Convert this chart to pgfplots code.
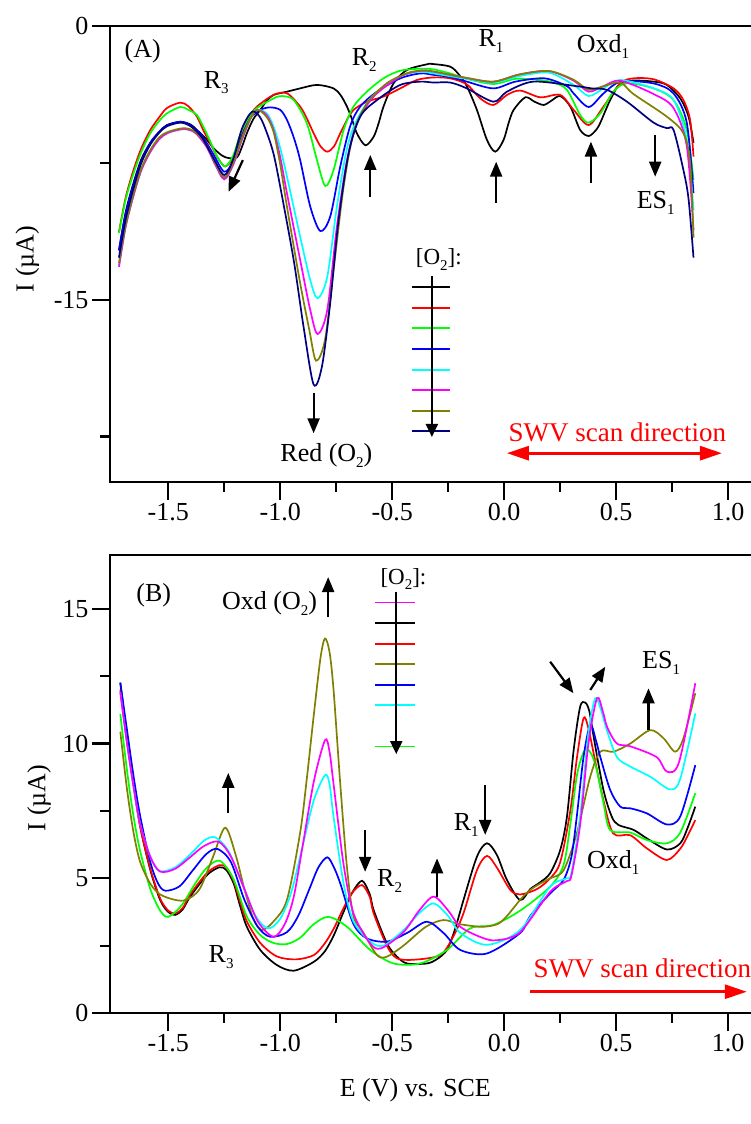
\documentclass[border=0pt]{standalone}
\usepackage{fontspec}
\setmainfont{Liberation Serif}
\usepackage{pgfplots}
\pgfplotsset{compat=1.18}
\usetikzlibrary{arrows.meta}
\definecolor{cgreen}{RGB}{0,255,0}
\definecolor{ccyan}{RGB}{0,255,255}
\definecolor{cmag}{RGB}{255,0,255}
\definecolor{colive}{RGB}{128,128,0}
\definecolor{cnavy}{RGB}{0,0,128}
\definecolor{cblue}{RGB}{0,0,255}
\definecolor{cred}{RGB}{255,0,0}
\newcommand\sub[1]{\raisebox{-0.5ex}{\fontsize{15}{15}\selectfont #1}}
\newcommand\ann{\fontsize{26}{30}\selectfont}
\newcommand\leg{\fontsize{23}{26}\selectfont}
\tikzset{arr/.style={line width=2.2pt, -{Triangle[length=15pt,width=12pt]}},
  mt/.style={line width=2.2pt, black}}
\pgfplotsset{
 panel/.style={
  scale only axis, width=645.1pt,
  xmin=-1.76, xmax=1.12,
  clip=false,
  axis line style={line width=2.5pt},
  every tick/.style={black, line width=2.2pt},
  major tick length=18pt, minor tick length=10pt,
  tick align=outside, tick pos=left,
  xtick={-1.5,-1,-0.5,0,0.5,1},
  /pgf/number format/assume math mode=true,
  xticklabel style={/pgf/number format/.cd, fixed, fixed zerofill, precision=1},
  tick label style={font=\fontsize{26}{30}\selectfont},
  every axis plot/.append style={line width=1.7pt, smooth},
 },
}
\begin{document}
\begin{tikzpicture}
%% ---------------- Panel A ----------------
\begin{axis}[panel, at={(0pt,0pt)}, anchor=north west, height=456pt,
  ymin=-25, ymax=0, ytick={-15,0}]
\addplot[black] coordinates {(-1.72,-12.3) (-1.69,-10.2) (-1.655,-8.6) (-1.62,-7.3) (-1.58,-6.4) (-1.54,-5.8) (-1.506,-5.43) (-1.446,-5.25) (-1.40,-5.4) (-1.372,-5.7) (-1.33,-6.2) (-1.297,-6.71) (-1.26,-7.1) (-1.231,-7.24) (-1.193,-7.2) (-1.17,-6.6) (-1.149,-5.88) (-1.12,-5.1) (-1.089,-4.6) (-1.06,-4.1) (-1.03,-3.78) (-0.97,-3.6) (-0.911,-3.42) (-0.836,-3.23) (-0.762,-3.42) (-0.73,-3.8) (-0.702,-4.42) (-0.68,-5.1) (-0.658,-5.88) (-0.62,-6.54) (-0.583,-6.07) (-0.56,-5.3) (-0.539,-4.42) (-0.494,-3.14) (-0.434,-2.41) (-0.345,-2.1) (-0.323,-2.08) (-0.241,-2.23) (-0.20,-2.7) (-0.167,-3.3) (-0.122,-4.6) (-0.077,-6.25) (-0.04,-6.89) (-0.003,-6.25) (0.02,-5.3) (0.042,-4.6) (0.094,-3.91) (0.135,-4.15) (0.176,-4.33) (0.21,-4.1) (0.25,-3.84) (0.295,-4.42) (0.339,-5.7) (0.377,-6.03) (0.41,-5.7) (0.429,-5.3) (0.473,-4.06) (0.518,-3.14) (0.577,-2.99) (0.667,-3.05) (0.726,-3.23) (0.786,-3.97) (0.823,-4.97) (0.845,-6.4)};
\addplot[cred] coordinates {(-1.72,-11.3) (-1.69,-9.4) (-1.655,-7.9) (-1.62,-6.7) (-1.58,-5.7) (-1.54,-5.0) (-1.506,-4.5) (-1.446,-4.2) (-1.41,-4.4) (-1.372,-4.97) (-1.34,-5.8) (-1.312,-6.43) (-1.28,-7.2) (-1.246,-7.7) (-1.21,-7.2) (-1.179,-6.07) (-1.14,-5.0) (-1.104,-4.42) (-1.03,-3.78) (-0.97,-3.69) (-0.911,-4.42) (-0.88,-5.1) (-0.851,-5.88) (-0.82,-6.6) (-0.79,-6.89) (-0.76,-6.6) (-0.732,-5.88) (-0.70,-5.1) (-0.673,-4.6) (-0.613,-4.15) (-0.539,-3.87) (-0.464,-3.42) (-0.39,-2.96) (-0.316,-2.82) (-0.241,-2.87) (-0.167,-3.2) (-0.107,-3.97) (-0.048,-4.33) (0.012,-3.78) (0.071,-3.54) (0.161,-3.91) (0.25,-3.78) (0.31,-4.6) (0.377,-5.43) (0.443,-4.42) (0.518,-3.14) (0.577,-2.87) (0.667,-2.92) (0.756,-3.42) (0.80,-4.06) (0.83,-5.15) (0.845,-7.16)};
\addplot[cgreen] coordinates {(-1.72,-11.35) (-1.69,-9.5) (-1.655,-8.08) (-1.62,-6.9) (-1.58,-5.88) (-1.54,-5.2) (-1.506,-4.79) (-1.446,-4.44) (-1.41,-4.6) (-1.372,-4.88) (-1.34,-5.6) (-1.312,-6.34) (-1.28,-7.2) (-1.246,-7.7) (-1.21,-7.1) (-1.179,-5.97) (-1.14,-5.0) (-1.104,-4.5) (-1.03,-3.97) (-0.993,-3.84) (-0.94,-4.06) (-0.881,-5.34) (-0.836,-7.35) (-0.799,-8.77) (-0.762,-7.9) (-0.717,-5.7) (-0.673,-4.42) (-0.613,-3.6) (-0.539,-2.87) (-0.464,-2.45) (-0.375,-2.34) (-0.316,-2.38) (-0.241,-2.6) (-0.167,-2.9) (-0.048,-3.18) (0.05,-2.9) (0.15,-2.95) (0.22,-3.1) (0.28,-3.5) (0.339,-4.88) (0.377,-5.3) (0.429,-4.79) (0.488,-3.6) (0.548,-3.14) (0.667,-3.42) (0.756,-4.06) (0.815,-5.7) (0.845,-8.44)};
\addplot[cblue] coordinates {(-1.72,-12.3) (-1.69,-10.3) (-1.655,-8.7) (-1.62,-7.4) (-1.58,-6.4) (-1.54,-5.8) (-1.506,-5.45) (-1.446,-5.25) (-1.40,-5.45) (-1.35,-6.0) (-1.30,-7.0) (-1.25,-7.99) (-1.21,-7.4) (-1.17,-6.0) (-1.13,-5.0) (-1.09,-4.6) (-1.045,-4.46) (-1.0,-4.6) (-0.97,-5.15) (-0.94,-6.1) (-0.911,-7.35) (-0.866,-9.9) (-0.821,-11.24) (-0.777,-10.45) (-0.732,-7.7) (-0.688,-5.5) (-0.643,-4.42) (-0.568,-3.6) (-0.464,-2.87) (-0.375,-2.6) (-0.316,-2.68) (-0.241,-2.8) (-0.167,-3.05) (-0.048,-3.42) (0.05,-3.05) (0.18,-2.87) (0.28,-3.3) (0.31,-3.7) (0.377,-4.44) (0.443,-3.7) (0.52,-3.05) (0.667,-3.15) (0.756,-3.7) (0.815,-5.3) (0.845,-9.16)};
\addplot[ccyan] coordinates {(-1.72,-13.2) (-1.69,-11.0) (-1.655,-9.3) (-1.62,-7.9) (-1.58,-6.9) (-1.54,-6.2) (-1.50,-5.85) (-1.43,-5.65) (-1.38,-5.85) (-1.33,-6.6) (-1.29,-7.6) (-1.25,-8.4) (-1.21,-7.6) (-1.17,-6.2) (-1.13,-5.0) (-1.10,-4.6) (-1.06,-4.8) (-1.03,-5.5) (-1.0,-6.7) (-0.97,-8.26) (-0.911,-11.55) (-0.866,-13.93) (-0.833,-14.93) (-0.79,-13.75) (-0.747,-9.9) (-0.702,-6.71) (-0.658,-5.15) (-0.583,-3.78) (-0.464,-2.77) (-0.375,-2.5) (-0.316,-2.6) (-0.167,-2.9) (-0.048,-3.1) (0.07,-2.74) (0.2,-2.56) (0.31,-3.23) (0.377,-3.84) (0.443,-3.42) (0.518,-2.96) (0.667,-3.42) (0.756,-4.06) (0.815,-6.25) (0.845,-10.1)};
\addplot[cmag] coordinates {(-1.72,-13.2) (-1.69,-11.0) (-1.655,-9.3) (-1.62,-7.9) (-1.58,-6.9) (-1.54,-6.2) (-1.50,-5.85) (-1.43,-5.65) (-1.38,-5.85) (-1.33,-6.6) (-1.29,-7.6) (-1.25,-8.4) (-1.21,-7.6) (-1.17,-6.2) (-1.13,-5.0) (-1.10,-4.6) (-1.06,-4.9) (-1.03,-5.7) (-1.0,-7.2) (-0.97,-9.17) (-0.911,-12.83) (-0.866,-15.57) (-0.833,-16.89) (-0.79,-15.57) (-0.747,-11.0) (-0.702,-7.35) (-0.658,-5.34) (-0.583,-3.87) (-0.464,-2.77) (-0.375,-2.45) (-0.316,-2.5) (-0.167,-2.85) (-0.048,-3.05) (0.07,-2.65) (0.2,-2.47) (0.31,-3.0) (0.377,-3.6) (0.443,-3.3) (0.518,-3.0) (0.667,-3.73) (0.756,-4.5) (0.815,-6.6) (0.845,-11.2)};
\addplot[colive] coordinates {(-1.72,-13.0) (-1.69,-10.9) (-1.655,-9.2) (-1.62,-7.8) (-1.58,-6.8) (-1.54,-6.1) (-1.50,-5.8) (-1.43,-5.6) (-1.38,-5.8) (-1.33,-6.5) (-1.29,-7.5) (-1.25,-8.3) (-1.21,-7.5) (-1.17,-6.1) (-1.13,-5.0) (-1.10,-4.6) (-1.06,-5.0) (-1.03,-5.8) (-1.0,-7.6) (-0.97,-9.9) (-0.911,-14.1) (-0.87,-16.67) (-0.84,-18.35) (-0.80,-17.2) (-0.762,-13.38) (-0.717,-8.81) (-0.673,-5.88) (-0.613,-4.24) (-0.524,-3.14) (-0.434,-2.59) (-0.375,-2.45) (-0.316,-2.5) (-0.167,-2.85) (-0.048,-3.05) (0.07,-2.65) (0.2,-2.47) (0.31,-2.95) (0.377,-3.5) (0.443,-3.3) (0.518,-3.1) (0.577,-3.73) (0.726,-4.97) (0.80,-5.88) (0.83,-7.5) (0.845,-11.6)};
\addplot[cnavy] coordinates {(-1.72,-12.7) (-1.69,-10.6) (-1.655,-8.9) (-1.62,-7.5) (-1.58,-6.5) (-1.54,-5.85) (-1.506,-5.5) (-1.446,-5.3) (-1.40,-5.5) (-1.35,-6.1) (-1.30,-7.2) (-1.25,-8.17) (-1.21,-7.3) (-1.17,-5.6) (-1.126,-4.7) (-1.09,-5.0) (-1.059,-5.88) (-1.03,-7.0) (-1.0,-8.81) (-0.94,-12.83) (-0.896,-16.48) (-0.851,-19.65) (-0.814,-18.68) (-0.777,-15.2) (-0.74,-10.69) (-0.695,-7.0) (-0.643,-4.97) (-0.568,-4.06) (-0.464,-3.23) (-0.375,-3.05) (-0.316,-3.1) (-0.241,-3.1) (-0.167,-3.42) (-0.048,-4.15) (0.012,-3.6) (0.13,-3.05) (0.324,-3.3) (0.39,-3.42) (0.458,-3.5) (0.548,-4.15) (0.667,-5.3) (0.726,-5.6) (0.756,-5.7) (0.80,-7.9) (0.823,-9.5) (0.845,-12.7)};
% minor ticks
\draw[mt] (axis cs:-1.76,-7.5) -- ++(-10pt,0pt);
\draw[mt] (axis cs:-1.76,-22.5) -- ++(-10pt,0pt);
\draw[mt] (axis cs:-1.25,-25) -- ++(0pt,-10pt);
\draw[mt] (axis cs:-0.75,-25) -- ++(0pt,-10pt);
\draw[mt] (axis cs:-0.25,-25) -- ++(0pt,-10pt);
\draw[mt] (axis cs:0.25,-25) -- ++(0pt,-10pt);
\draw[mt] (axis cs:0.75,-25) -- ++(0pt,-10pt);
% annotations
\node[font=\ann] at (axis cs:-1.614,-1.40) {(A)};
\node[font=\ann, anchor=base west] at (axis cs:-1.357,-3.40) {R\sub{3}};
\node[font=\ann, anchor=base west] at (axis cs:-0.696,-2.14) {R\sub{2}};
\node[font=\ann, anchor=base west] at (axis cs:-0.130,-1.15) {R\sub{1}};
\node[font=\ann, anchor=base west] at (axis cs:0.308,-1.48) {Oxd\sub{1}};
\node[font=\ann, anchor=base west] at (axis cs:0.576,-9.98) {ES\sub{1}};
\node[font=\ann, anchor=base west] at (axis cs:-1.015,-23.9) {Red (O\sub{2})};
\node[font=\fontsize{27}{30}\selectfont, text=cred, anchor=base west] at (axis cs:0.004,-22.79) {SWV scan direction};
\draw[cred, line width=2.8pt, {Triangle[length=22pt,width=14pt]}-{Triangle[length=22pt,width=14pt]}] (axis cs:0.012,-23.42) -- (axis cs:0.972,-23.42);
\draw[arr] (axis cs:-1.167,-7.35) -- (axis cs:-1.231,-9.09);
\draw[arr] (axis cs:-0.598,-9.36) -- (axis cs:-0.598,-7.07);
\draw[arr] (axis cs:-0.036,-9.69) -- (axis cs:-0.036,-7.44);
\draw[arr] (axis cs:0.387,-8.59) -- (axis cs:0.387,-6.34);
\draw[arr] (axis cs:0.674,-5.98) -- (axis cs:0.674,-8.26);
\draw[arr] (axis cs:-0.851,-20.1) -- (axis cs:-0.851,-22.33);
% legend
\node[font=\leg, anchor=base west] at (axis cs:-0.410,-13.1) {[O\sub{2}]:};
\draw[black, line width=1.8pt] (axis cs:-0.412,-14.31) -- (axis cs:-0.241,-14.31);
\draw[cred, line width=1.8pt] (axis cs:-0.412,-15.46) -- (axis cs:-0.241,-15.46);
\draw[cgreen, line width=1.8pt] (axis cs:-0.412,-16.56) -- (axis cs:-0.241,-16.56);
\draw[cblue, line width=1.8pt] (axis cs:-0.412,-17.71) -- (axis cs:-0.241,-17.71);
\draw[ccyan, line width=1.8pt] (axis cs:-0.412,-18.86) -- (axis cs:-0.241,-18.86);
\draw[cmag, line width=1.8pt] (axis cs:-0.412,-19.96) -- (axis cs:-0.241,-19.96);
\draw[colive, line width=1.8pt] (axis cs:-0.412,-21.11) -- (axis cs:-0.241,-21.11);
\draw[cnavy, line width=1.8pt] (axis cs:-0.412,-22.2) -- (axis cs:-0.241,-22.2);
\draw[line width=2pt, -{Triangle[length=13pt,width=12pt]}] (axis cs:-0.323,-13.71) -- (axis cs:-0.323,-22.53);
\node[font=\ann, rotate=90] at (axis cs:-2.129,-12.77) {I (µA)};
\end{axis}
%% ---------------- Panel B ----------------
\begin{axis}[panel, at={(0pt,-529pt)}, anchor=north west, height=458pt,
  ymin=0, ymax=17, ytick={0,5,10,15}]
\addplot[black] coordinates {(-1.714,12.26) (-1.684,10.26) (-1.655,8.53) (-1.625,6.92) (-1.58,5.31) (-1.536,4.19) (-1.50,3.75) (-1.469,3.64) (-1.435,3.85) (-1.402,4.32) (-1.327,5.12) (-1.271,5.41) (-1.24,5.3) (-1.208,4.81) (-1.18,4.0) (-1.149,3.2) (-1.089,2.34) (-1.015,1.78) (-0.94,1.57) (-0.85,1.9) (-0.80,2.3) (-0.76,2.9) (-0.72,3.7) (-0.68,4.45) (-0.635,4.91) (-0.60,4.4) (-0.583,3.82) (-0.524,2.59) (-0.48,2.1) (-0.434,1.84) (-0.345,1.84) (-0.30,2.0) (-0.256,2.34) (-0.22,3.1) (-0.182,4.19) (-0.122,5.8) (-0.077,6.3) (-0.033,5.87) (0.012,4.94) (0.071,4.19) (0.116,4.6) (0.16,4.85) (0.205,5.19) (0.25,6.05) (0.28,7.29) (0.31,9.76) (0.339,11.37) (0.362,11.52) (0.38,11.2) (0.399,10.26) (0.443,8.28) (0.48,7.29) (0.51,6.98) (0.577,6.8) (0.637,6.48) (0.726,6.07) (0.786,6.3) (0.82,6.9) (0.853,7.66)};
\addplot[cred] coordinates {(-1.714,12.0) (-1.684,10.1) (-1.655,8.45) (-1.625,6.9) (-1.58,5.35) (-1.536,4.25) (-1.50,3.8) (-1.469,3.7) (-1.435,3.9) (-1.402,4.4) (-1.327,5.2) (-1.271,5.49) (-1.24,5.4) (-1.208,4.9) (-1.18,4.15) (-1.149,3.4) (-1.089,2.6) (-1.015,2.1) (-0.93,1.99) (-0.85,2.15) (-0.80,2.6) (-0.76,3.15) (-0.72,3.85) (-0.68,4.45) (-0.635,4.75) (-0.60,4.3) (-0.583,3.7) (-0.524,2.5) (-0.479,2.03) (-0.40,1.98) (-0.286,2.15) (-0.23,2.8) (-0.182,3.7) (-0.122,5.3) (-0.077,5.83) (-0.033,5.4) (0.027,4.57) (0.071,4.4) (0.146,4.6) (0.205,5.0) (0.25,5.6) (0.295,7.5) (0.325,9.5) (0.354,10.94) (0.375,10.6) (0.40,9.6) (0.44,8.0) (0.486,6.67) (0.5625,6.6) (0.637,6.11) (0.726,5.68) (0.786,6.1) (0.82,6.6) (0.853,7.16)};
\addplot[cgreen] coordinates {(-1.714,11.1) (-1.684,9.0) (-1.655,7.3) (-1.625,6.0) (-1.58,4.6) (-1.536,3.8) (-1.50,3.57) (-1.44,4.0) (-1.38,4.8) (-1.327,5.4) (-1.27,5.65) (-1.21,5.0) (-1.15,3.6) (-1.09,2.9) (-1.03,2.6) (-0.97,2.56) (-0.91,2.8) (-0.85,3.3) (-0.784,3.57) (-0.702,3.2) (-0.598,2.34) (-0.494,1.84) (-0.375,1.84) (-0.256,2.34) (-0.152,3.14) (-0.048,3.27) (0.071,3.8) (0.205,4.69) (0.265,5.5) (0.295,7.0) (0.324,8.8) (0.35,9.6) (0.369,9.79) (0.39,9.6) (0.414,9.0) (0.443,7.8) (0.473,6.79) (0.5625,6.7) (0.637,6.42) (0.726,6.3) (0.786,6.7) (0.853,8.16)};
\addplot[colive] coordinates {(-1.714,10.44) (-1.684,8.3) (-1.655,6.7) (-1.625,5.6) (-1.58,4.8) (-1.536,4.4) (-1.47,4.2) (-1.42,4.2) (-1.36,4.6) (-1.30,5.8) (-1.246,6.88) (-1.20,5.9) (-1.16,4.6) (-1.12,3.5) (-1.082,3.08) (-1.03,3.4) (-0.97,4.2) (-0.911,6.7) (-0.88,8.8) (-0.851,11.0) (-0.82,13.2) (-0.80,13.9) (-0.78,13.4) (-0.762,12.0) (-0.732,8.5) (-0.702,5.4) (-0.673,3.6) (-0.63,3.0) (-0.568,2.15) (-0.524,2.09) (-0.45,2.5) (-0.35,3.2) (-0.271,3.45) (-0.2,3.3) (-0.1,3.2) (-0.03,3.3) (0.012,3.6) (0.071,4.2) (0.116,4.57) (0.16,4.8) (0.205,5.0) (0.265,5.3) (0.324,6.67) (0.384,8.77) (0.429,9.7) (0.488,9.7) (0.5625,10.0) (0.652,10.5) (0.711,10.2) (0.763,9.7) (0.80,10.2) (0.853,11.87)};
\addplot[cblue] coordinates {(-1.714,12.26) (-1.684,10.5) (-1.655,8.8) (-1.625,7.3) (-1.58,5.6) (-1.545,4.8) (-1.513,4.54) (-1.45,4.7) (-1.39,5.3) (-1.33,5.9) (-1.28,6.09) (-1.22,5.6) (-1.16,4.2) (-1.10,3.2) (-1.045,2.83) (-0.97,3.0) (-0.92,3.6) (-0.87,4.6) (-0.83,5.4) (-0.79,5.78) (-0.76,5.4) (-0.732,4.81) (-0.673,3.3) (-0.613,2.77) (-0.524,2.65) (-0.434,2.97) (-0.345,3.39) (-0.271,2.97) (-0.196,2.34) (-0.077,2.21) (0.071,2.97) (0.116,3.6) (0.205,4.44) (0.265,4.94) (0.30,5.8) (0.324,7.3) (0.354,9.5) (0.384,10.7) (0.41,10.1) (0.429,9.5) (0.473,8.28) (0.518,7.66) (0.5625,7.6) (0.637,7.41) (0.726,7.0) (0.786,7.3) (0.853,9.2)};
\addplot[ccyan] coordinates {(-1.714,11.9) (-1.684,10.0) (-1.655,8.4) (-1.625,7.0) (-1.58,5.8) (-1.54,5.27) (-1.47,5.4) (-1.40,5.9) (-1.34,6.4) (-1.29,6.52) (-1.23,6.0) (-1.17,4.8) (-1.11,3.6) (-1.054,3.14) (-1.0,3.5) (-0.95,4.5) (-0.90,6.2) (-0.85,7.9) (-0.80,8.83) (-0.78,8.5) (-0.762,7.29) (-0.717,4.8) (-0.673,3.4) (-0.598,2.65) (-0.539,2.5) (-0.449,3.08) (-0.38,3.7) (-0.315,4.07) (-0.25,3.6) (-0.196,2.97) (-0.077,2.53) (0.071,3.08) (0.205,4.69) (0.28,5.0) (0.30,5.2) (0.339,7.3) (0.376,10.4) (0.406,11.68) (0.43,11.3) (0.458,10.5) (0.503,9.5) (0.5625,9.15) (0.652,8.77) (0.741,8.3) (0.786,8.7) (0.853,11.12)};
\addplot[cmag] coordinates {(-1.714,11.9) (-1.684,10.0) (-1.655,8.4) (-1.625,7.0) (-1.58,5.8) (-1.536,5.25) (-1.47,5.35) (-1.40,5.8) (-1.34,6.2) (-1.275,6.36) (-1.22,5.8) (-1.16,4.6) (-1.10,3.4) (-1.03,2.83) (-0.98,3.3) (-0.94,4.3) (-0.90,6.2) (-0.85,8.6) (-0.80,10.13) (-0.78,9.7) (-0.762,8.5) (-0.717,5.5) (-0.673,3.7) (-0.60,2.6) (-0.55,2.40) (-0.45,3.0) (-0.38,3.8) (-0.315,4.32) (-0.25,3.8) (-0.196,3.2) (-0.10,2.8) (-0.033,2.7) (0.071,3.0) (0.205,4.5) (0.28,4.9) (0.30,5.1) (0.339,7.0) (0.376,10.0) (0.414,11.68) (0.44,11.2) (0.46,10.6) (0.503,10.0) (0.5625,9.9) (0.68,9.5) (0.726,8.96) (0.78,9.3) (0.853,12.24)};
% minor ticks
\draw[mt] (axis cs:-1.76,2.5) -- ++(-10pt,0pt);
\draw[mt] (axis cs:-1.76,7.5) -- ++(-10pt,0pt);
\draw[mt] (axis cs:-1.76,12.5) -- ++(-10pt,0pt);
\draw[mt] (axis cs:-1.25,0) -- ++(0pt,-10pt);
\draw[mt] (axis cs:-0.75,0) -- ++(0pt,-10pt);
\draw[mt] (axis cs:-0.25,0) -- ++(0pt,-10pt);
\draw[mt] (axis cs:0.25,0) -- ++(0pt,-10pt);
\draw[mt] (axis cs:0.75,0) -- ++(0pt,-10pt);
% annotations
\node[font=\ann] at (axis cs:-1.565,15.52) {(B)};
\node[font=\ann, anchor=base west] at (axis cs:-1.275,14.96) {Oxd (O\sub{2})};
\node[font=\ann, anchor=base west] at (axis cs:-1.335,1.86) {R\sub{3}};
\node[font=\ann, anchor=base west] at (axis cs:-0.583,4.68) {R\sub{2}};
\node[font=\ann, anchor=base west] at (axis cs:-0.241,6.79) {R\sub{1}};
\node[font=\ann, anchor=base west] at (axis cs:0.600,12.8) {ES\sub{1}};
\node[font=\ann, anchor=base west] at (axis cs:0.354,5.38) {Oxd\sub{1}};
\node[font=\fontsize{27}{30}\selectfont, text=cred, anchor=base west] at (axis cs:0.116,1.30) {SWV scan direction};
\draw[cred, line width=2.8pt, -{Triangle[length=22pt,width=14pt]}] (axis cs:0.116,0.79) -- (axis cs:1.083,0.79);
\draw[arr] (axis cs:-0.786,14.7) -- (axis cs:-0.786,16.18);
\draw[arr] (axis cs:-1.232,7.42) -- (axis cs:-1.232,8.91);
\draw[arr] (axis cs:-0.621,6.79) -- (axis cs:-0.621,5.24);
\draw[arr] (axis cs:-0.30,4.32) -- (axis cs:-0.30,5.74);
\draw[arr] (axis cs:-0.085,8.46) -- (axis cs:-0.085,6.61);
\draw[arr] (axis cs:0.205,13.04) -- (axis cs:0.309,11.87);
\draw[arr] (axis cs:0.384,11.99) -- (axis cs:0.451,12.85);
\draw[arr] (axis cs:0.644,10.5) -- (axis cs:0.644,12.05);
% legend
\node[font=\leg, anchor=base west] at (axis cs:-0.568,15.92) {[O\sub{2}]:};
\draw[cmag, line width=1.8pt] (axis cs:-0.576,15.24) -- (axis cs:-0.397,15.24);
\draw[black, line width=1.8pt] (axis cs:-0.576,14.48) -- (axis cs:-0.397,14.48);
\draw[cred, line width=1.8pt] (axis cs:-0.576,13.71) -- (axis cs:-0.397,13.71);
\draw[colive, line width=1.8pt] (axis cs:-0.576,12.94) -- (axis cs:-0.397,12.94);
\draw[cblue, line width=1.8pt] (axis cs:-0.576,12.18) -- (axis cs:-0.397,12.18);
\draw[ccyan, line width=1.8pt] (axis cs:-0.576,11.42) -- (axis cs:-0.397,11.42);
\draw[cgreen, line width=1.8pt] (axis cs:-0.576,9.89) -- (axis cs:-0.397,9.89);
\draw[line width=2pt, -{Triangle[length=13pt,width=12pt]}] (axis cs:-0.482,15.64) -- (axis cs:-0.482,9.61);
\node[font=\ann, rotate=90] at (axis cs:-2.076,7.98) {I (µA)};
\node[font=\ann] at (axis cs:-0.397,-2.86) {E (V) vs. SCE};
\end{axis}
\pgfresetboundingbox
\path[use as bounding box] (-110pt,26pt) rectangle (640pt,-1098pt);
\end{tikzpicture}
\end{document}
